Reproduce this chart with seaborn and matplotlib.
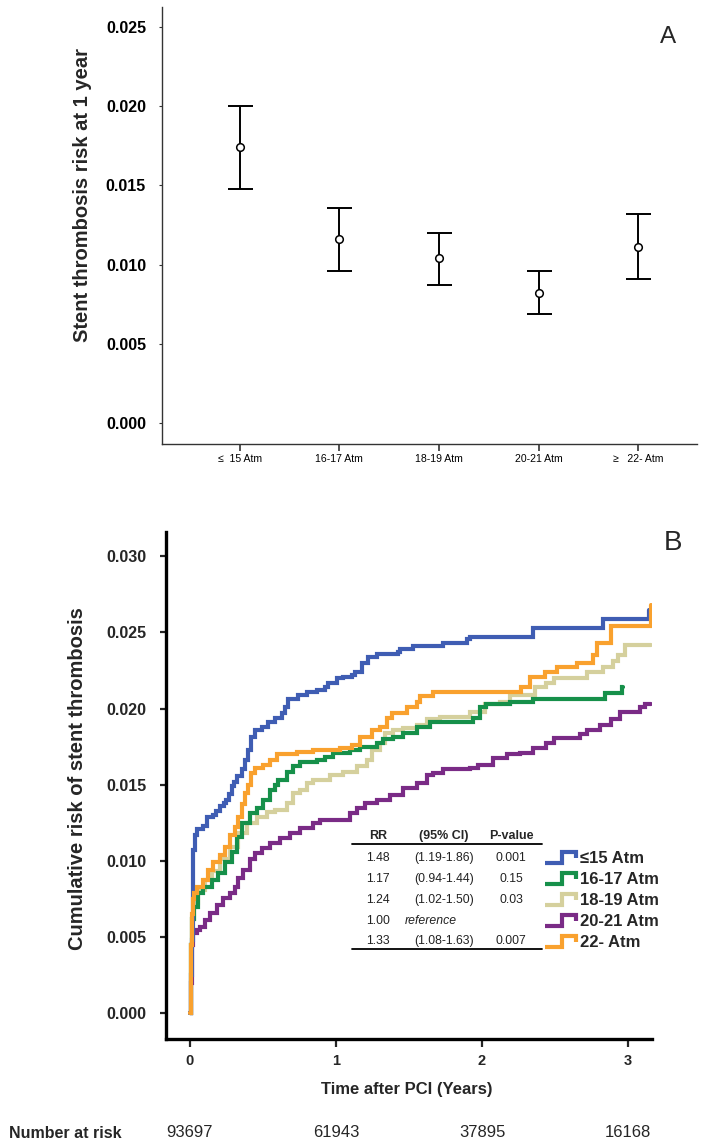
import matplotlib
matplotlib.use("Agg")
import matplotlib.pyplot as plt
import matplotlib.transforms as mtransforms
from matplotlib.lines import Line2D
from matplotlib.legend_handler import HandlerLine2D
import pandas as pd
import seaborn as sns

# ---------------- Panel A: 1-year risk by balloon pressure ----------------
PRESSURE_GROUPS = ["≤  15 Atm", "16-17 Atm", "18-19 Atm", "20-21 Atm", "≥   22- Atm"]
RISK_1Y = [0.0174, 0.0116, 0.0104, 0.0082, 0.0111]
RISK_LO = [0.0148, 0.0096, 0.0087, 0.0069, 0.0091]
RISK_HI = [0.0200, 0.0136, 0.0120, 0.0096, 0.0132]

# ---------------- Panel B: cumulative incidence (step curves) ----------------
T_LE15 = [0, 0.006, 0.012, 0.018, 0.023, 0.035, 0.046, 0.09, 0.114, 0.16, 0.18, 0.205,
          0.23, 0.25, 0.27, 0.286, 0.30, 0.32, 0.354, 0.377, 0.40, 0.42, 0.445, 0.49,
          0.536, 0.582, 0.628, 0.65, 0.673, 0.742, 0.80, 0.868, 0.925, 0.947, 1.005,
          1.05, 1.107, 1.13, 1.176, 1.22, 1.28, 1.427, 1.44, 1.53, 1.735, 1.895, 1.918,
          2.35, 2.827, 3.14]
R_LE15 = [0, 0.0025, 0.0048, 0.0085, 0.0107, 0.0117, 0.0121, 0.01226, 0.0129, 0.0130,
          0.0133, 0.01357, 0.0138, 0.0140, 0.0144, 0.01489, 0.0152, 0.01555, 0.0160,
          0.01664, 0.0173, 0.01816, 0.0186, 0.01882, 0.01914, 0.0194, 0.01974, 0.0201,
          0.0206, 0.0209, 0.0211, 0.02125, 0.02145, 0.0217, 0.0220, 0.0221, 0.0222,
          0.0224, 0.0230, 0.0234, 0.0236, 0.0237, 0.0239, 0.0241, 0.02428, 0.02454,
          0.0247, 0.02526, 0.0259, 0.0265]

T_16_17 = [0, 0.005, 0.01, 0.015, 0.025, 0.055, 0.09, 0.149, 0.194, 0.24, 0.286, 0.32,
           0.354, 0.41, 0.457, 0.50, 0.548, 0.58, 0.605, 0.662, 0.708, 0.753, 0.868,
           0.925, 0.98, 1.096, 1.164, 1.28, 1.324, 1.392, 1.46, 1.553, 1.644, 1.94,
           1.986, 2.03, 2.19, 2.35, 2.84, 2.957, 2.967]
R_16_17 = [0, 0.002, 0.0045, 0.0062, 0.0070, 0.0079, 0.0083, 0.00875, 0.0092, 0.0099,
           0.0106, 0.01158, 0.0125, 0.01316, 0.0135, 0.0140, 0.01467, 0.0150, 0.0153,
           0.01586, 0.0162, 0.0165, 0.01664, 0.01684, 0.0171, 0.0173, 0.0175, 0.01776,
           0.0180, 0.01816, 0.0184, 0.0188, 0.0191, 0.0194, 0.0201, 0.0203, 0.0204,
           0.0206, 0.02105, 0.0214, 0.0214]

T_18_19 = [0, 0.005, 0.01, 0.015, 0.025, 0.055, 0.103, 0.149, 0.205, 0.274, 0.33, 0.388,
           0.457, 0.525, 0.582, 0.662, 0.708, 0.753, 0.80, 0.845, 0.96, 1.05, 1.142,
           1.21, 1.245, 1.30, 1.336, 1.392, 1.46, 1.553, 1.62, 1.712, 1.918, 2.02, 2.123,
           2.19, 2.36, 2.44, 2.49, 2.72, 2.83, 2.90, 2.93, 2.98, 3.16]
R_18_19 = [0, 0.002, 0.0045, 0.0062, 0.00724, 0.0081, 0.00875, 0.0093, 0.0101, 0.0109,
           0.01184, 0.0125, 0.0129, 0.0132, 0.01336, 0.0138, 0.01447, 0.01467, 0.0151,
           0.0153, 0.01566, 0.01586, 0.0162, 0.01664, 0.0173, 0.01776, 0.0184, 0.0186,
           0.01875, 0.01895, 0.0193, 0.01947, 0.0198, 0.0203, 0.02046, 0.02086, 0.0214,
           0.0217, 0.0220, 0.02237, 0.02276, 0.0231, 0.02355, 0.0242, 0.0242]

T_20_21 = [0, 0.005, 0.012, 0.02, 0.046, 0.068, 0.103, 0.137, 0.183, 0.228, 0.274, 0.308,
           0.33, 0.365, 0.41, 0.445, 0.49, 0.548, 0.616, 0.685, 0.753, 0.845, 0.89,
           1.096, 1.142, 1.2, 1.28, 1.37, 1.46, 1.553, 1.62, 1.667, 1.735, 1.918, 1.975,
           2.077, 2.17, 2.26, 2.35, 2.44, 2.49, 2.67, 2.72, 2.81, 2.88, 2.945, 3.08,
           3.116, 3.16]
R_20_21 = [0, 0.002, 0.0045, 0.00526, 0.00546, 0.00566, 0.0061, 0.00658, 0.0071, 0.00757,
           0.0079, 0.0083, 0.0089, 0.0094, 0.0101, 0.01053, 0.01086, 0.0112, 0.01151,
           0.01184, 0.01217, 0.0125, 0.0127, 0.01316, 0.0135, 0.0138, 0.0140, 0.01434,
           0.0148, 0.0151, 0.01566, 0.0158, 0.0160, 0.0161, 0.01632, 0.01678, 0.0170,
           0.0171, 0.01743, 0.01776, 0.0181, 0.0183, 0.0186, 0.0189, 0.0193, 0.0198,
           0.0201, 0.0203, 0.0203]

T_GE22 = [0, 0.005, 0.01, 0.015, 0.02, 0.03, 0.046, 0.09, 0.123, 0.158, 0.205, 0.24,
          0.274, 0.308, 0.329, 0.354, 0.377, 0.40, 0.42, 0.445, 0.50, 0.548, 0.594,
          0.73, 0.845, 1.027, 1.107, 1.164, 1.245, 1.30, 1.347, 1.38, 1.484, 1.553,
          1.575, 1.667, 2.27, 2.33, 2.43, 2.51, 2.65, 2.76, 2.79, 2.88, 3.16]
R_GE22 = [0, 0.002, 0.0045, 0.0065, 0.0075, 0.0079, 0.0083, 0.00875, 0.0094, 0.0099,
          0.0104, 0.0109, 0.0117, 0.0122, 0.0129, 0.0137, 0.01447, 0.0150, 0.0158,
          0.0161, 0.01632, 0.01664, 0.0170, 0.01717, 0.0173, 0.01743, 0.01763, 0.01816,
          0.0186, 0.0188, 0.0194, 0.0197, 0.0201, 0.0204, 0.0208, 0.0211, 0.02145,
          0.0221, 0.02237, 0.0227, 0.0230, 0.0235, 0.02434, 0.0254, 0.0268]

GROUP_LABELS = ["≤15 Atm", "16-17 Atm", "18-19 Atm", "20-21 Atm", "22- Atm"]
GROUP_COLORS = ["#3F5DB3", "#16904A", "#D5D09D", "#7A2B86", "#F9A12E"]
DRAW_ORDER = ["18-19 Atm", "16-17 Atm", "20-21 Atm", "≤15 Atm", "22- Atm"]

RR = ["1.48", "1.17", "1.24", "1.00", "1.33"]
CI_95 = ["(1.19-1.86)", "(0.94-1.44)", "(1.02-1.50)", "reference", "(1.08-1.63)"]
P_VALUE = ["0.001", "0.15", "0.03", "", "0.007"]

YEAR_TICKS = [0, 1, 2, 3]
AT_RISK = [93697, 61943, 37895, 16168]


class StepHandler(HandlerLine2D):
    """Legend key drawn as a small step, like the curves."""
    def create_artists(self, legend, orig_handle, xdescent, ydescent,
                       width, height, fontsize, trans):
        x0, y0 = -xdescent, -ydescent
        xs = [x0, x0 + 0.55 * width, x0 + 0.55 * width, x0 + width, x0 + width]
        ys = [y0 + 0.05 * height, y0 + 0.05 * height, y0 + 0.95 * height,
              y0 + 0.95 * height, y0 + 0.5 * height]
        line = Line2D(xs, ys, color=orig_handle.get_color(),
                      lw=orig_handle.get_linewidth(), solid_joinstyle="miter",
                      solid_capstyle="butt")
        line.set_transform(trans)
        return [line]


sns.set_style("ticks")
plt.rcParams["font.family"] = ["Liberation Sans", "DejaVu Sans"]

fig = plt.figure(figsize=(7.05, 11.46), dpi=100)

# ---------------- Panel A ----------------
axa = fig.add_axes([0.2298, 0.6126, 0.7589, 0.3813])
xpos = list(range(len(PRESSURE_GROUPS)))
yerr = [[m - lo for m, lo in zip(RISK_1Y, RISK_LO)],
        [hi - m for m, hi in zip(RISK_1Y, RISK_HI)]]
axa.errorbar(xpos, RISK_1Y, yerr=yerr, fmt="none", ecolor="black",
             elinewidth=1.4, capsize=9, capthick=1.4, zorder=2)
sns.scatterplot(x=xpos, y=RISK_1Y, ax=axa, marker="o", s=30,
                facecolor="white", edgecolor="black", linewidth=1.1, zorder=3)
axa.set_xlim(-0.78, 4.59)
axa.set_ylim(-0.00133, 0.02627)
axa.set_xticks(xpos)
axa.set_xticklabels(PRESSURE_GROUPS, fontsize=7.6)
axa.set_yticks([0.0, 0.005, 0.010, 0.015, 0.020, 0.025])
axa.set_yticklabels(["0.000", "0.005", "0.010", "0.015", "0.020", "0.025"],
                    fontsize=11.5, fontweight="bold")
for s in ["top", "right"]:
    axa.spines[s].set_visible(False)
for s in ["left", "bottom"]:
    axa.spines[s].set_linewidth(1.0)
    axa.spines[s].set_color("#333333")
axa.tick_params(axis="y", length=2.5, width=0.8, pad=9, colors="#333333",
                labelcolor="black")
axa.tick_params(axis="x", length=5, width=1.2, pad=2, colors="#333333",
                labelcolor="black")
axa.set_ylabel("Stent thrombosis risk at 1 year", fontsize=14.5, fontweight="bold")
axa.yaxis.label.set_va("center")
axa.yaxis.set_label_coords(-0.148, 0.57)
fig.text(0.9475, 0.9677, "A", fontsize=17.5, ha="center", va="center")

# ---------------- Panel B ----------------
axb = fig.add_axes([0.2355, 0.0934, 0.6894, 0.4424])
frames = [pd.DataFrame({"years": t, "risk": r, "group": g})
          for g, t, r in zip(GROUP_LABELS,
                             [T_LE15, T_16_17, T_18_19, T_20_21, T_GE22],
                             [R_LE15, R_16_17, R_18_19, R_20_21, R_GE22])]
km = pd.concat(frames, ignore_index=True)
palette = dict(zip(GROUP_LABELS, GROUP_COLORS))
sns.lineplot(data=km, x="years", y="risk", hue="group", hue_order=DRAW_ORDER,
             palette=palette, estimator=None, sort=False, drawstyle="steps-post",
             lw=3, legend=False, ax=axb, solid_joinstyle="miter")
# make the draw order follow DRAW_ORDER
for i, ln in enumerate(axb.get_lines()):
    ln.set_zorder(2 + i * 0.1)

axb.set_xlim(-0.164, 3.164)
axb.set_ylim(-0.0017, 0.0316)
axb.set_xticks(YEAR_TICKS)
axb.set_xticklabels([str(v) for v in YEAR_TICKS], fontsize=10.5, fontweight="bold")
axb.set_yticks([0.0, 0.005, 0.010, 0.015, 0.020, 0.025, 0.030])
axb.set_yticklabels(["0.000", "0.005", "0.010", "0.015", "0.020", "0.025", "0.030"],
                    fontsize=11.5, fontweight="bold")
for s in ["top", "right"]:
    axb.spines[s].set_visible(False)
for s in ["left", "bottom"]:
    axb.spines[s].set_linewidth(2.4)
    axb.spines[s].set_color("black")
axb.tick_params(axis="y", length=4, width=1.6, pad=10)
axb.tick_params(axis="x", length=6, width=1.6, pad=5)
axb.set_ylabel("Cumulative risk of stent thrombosis", fontsize=14.5, fontweight="bold")
axb.yaxis.label.set_va("center")
axb.yaxis.set_label_coords(-0.183, 0.513)
axb.set_xlabel("Time after PCI (Years)", fontsize=12, fontweight="bold")
axb.xaxis.label.set_va("center")
axb.xaxis.set_label_coords(0.496, -0.1006)
fig.text(0.9546, 0.5262, "B", fontsize=20, ha="center", va="center")

# RR table
head_y = 0.01164
row_y = [0.01018, 0.0088, 0.00743, 0.00605, 0.00474]
col_rr, col_ci, col_p = 1.288, 1.74, 2.20
axb.text(col_rr, head_y, "RR", fontsize=9, fontweight="bold", ha="center", va="center")
axb.text(col_ci, head_y, "(95% CI)", fontsize=9, fontweight="bold", ha="center", va="center")
axb.text(col_p, head_y, "P-value", fontsize=9, fontweight="bold", ha="center", va="center")
for y, rr, ci, p in zip(row_y, RR, CI_95, P_VALUE):
    axb.text(col_rr, y, rr, fontsize=8.8, ha="center", va="center", color="#222222")
    if ci == "reference":
        axb.text(1.647, y, ci, fontsize=8.8, style="italic", ha="center", va="center",
                 color="#222222")
    else:
        axb.text(col_ci, y, ci, fontsize=8.8, ha="center", va="center", color="#222222")
    axb.text(col_p, y, p, fontsize=8.8, ha="center", va="center", color="#222222")
axb.axhline(0.01112, xmin=0.383, xmax=0.774, color="black", lw=1.3)
axb.axhline(0.00423, xmin=0.383, xmax=0.774, color="black", lw=1.3)

# legend with step-shaped keys
handles = [Line2D([], [], color=c, lw=3) for c in GROUP_COLORS]
leg = axb.legend(handles, GROUP_LABELS, handler_map={Line2D: StepHandler()},
                 loc="upper left", bbox_to_anchor=(0.779, 0.370), frameon=False,
                 borderpad=0, borderaxespad=0, handlelength=1.9, handletextpad=0.25,
                 labelspacing=0.36, prop={"size": 12, "weight": "bold"})

# number at risk row
trans = mtransforms.blended_transform_factory(axb.transData, axb.transAxes)
for yr, n in zip(YEAR_TICKS, AT_RISK):
    axb.text(yr, -0.1854, str(n), transform=trans, fontsize=12, ha="center", va="center")
fig.text(0.0128, 0.0113, "Number at risk", fontsize=11.5, fontweight="bold",
         ha="left", va="center")

fig.savefig("out.png", dpi=100)
